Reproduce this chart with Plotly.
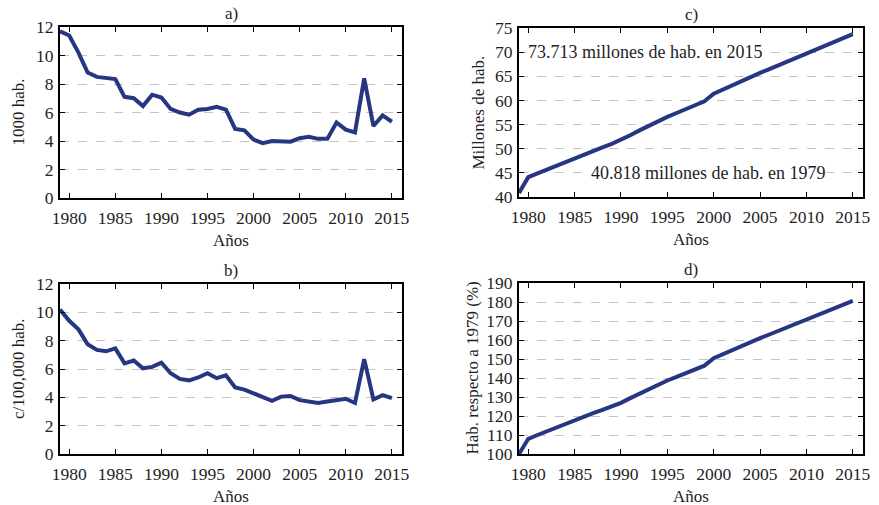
import plotly.graph_objects as go
from plotly.subplots import make_subplots

years = list(range(1979, 2016))

# a) per 1000 inhabitants
rate_1000 = [11.7, 11.4, 10.2, 8.8, 8.5, 8.45, 8.35, 7.1, 7.0, 6.45, 7.25, 7.05,
             6.25, 6.0, 5.85, 6.2, 6.25, 6.4, 6.2, 4.85, 4.75, 4.1, 3.85, 4.0,
             4.0, 3.95, 4.2, 4.3, 4.15, 4.15, 5.3, 4.8, 4.6, 8.4, 5.05, 5.8, 5.35]

# b) per 100,000 inhabitants
rate_100k = [10.2, 9.4, 8.8, 7.75, 7.35, 7.25, 7.45, 6.4, 6.6, 6.05, 6.15, 6.45,
             5.7, 5.3, 5.2, 5.4, 5.7, 5.35, 5.55, 4.7, 4.55, 4.3, 4.05, 3.75,
             4.05, 4.1, 3.8, 3.7, 3.6, 3.7, 3.8, 3.9, 3.6, 6.7, 3.85, 4.15, 3.95]

# c) population, millions
population = [40.818, 44.1, 44.9, 45.7, 46.5, 47.3, 48.1, 48.8, 49.6, 50.3, 51.0,
              51.8, 52.8, 53.8, 54.8, 55.7, 56.6, 57.4, 58.2, 59.0, 59.8, 61.4,
              62.3, 63.2, 64.1, 64.9, 65.7, 66.5, 67.3, 68.1, 68.9, 69.7, 70.5,
              71.3, 72.1, 72.9, 73.713]

# d) population relative to 1979 (%)
relative_pct = [100.0, 108.0, 110.0, 112.0, 113.9, 115.9, 117.8, 119.6, 121.5,
                123.2, 124.9, 126.9, 129.4, 131.8, 134.3, 136.5, 138.7, 140.6,
                142.6, 144.5, 146.5, 150.4, 152.6, 154.8, 157.0, 159.0, 161.0,
                162.9, 164.9, 166.8, 168.8, 170.8, 172.7, 174.7, 176.6, 178.6, 180.6]

x_ticks = [1980, 1985, 1990, 1995, 2000, 2005, 2010, 2015]
panel_titles = ["a)", "c)", "b)", "d)"]
y_titles = ["1000 hab.", "Millones de hab.", "c/100,000 hab.", "Hab. respecto a 1979 (%)"]
y_ranges = [[0, 12], [40, 75], [0, 12], [100, 190]]
y_dticks = [2, 5, 2, 10]

W, H = 879, 505
LINE = "#263681"
FONT = "Liberation Serif, Times New Roman, serif"
TICK = dict(family=FONT, size=17.5, color="#1e1e1e")
TXT = dict(family=FONT, size=17, color="#1e1e1e")
NOTE = dict(family=FONT, size=18, color="#1e1e1e")

fig = make_subplots(rows=2, cols=2)

series = [(rate_1000, 1, 1), (population, 1, 2), (rate_100k, 2, 1), (relative_pct, 2, 2)]
for vals, r, c in series:
    fig.add_trace(go.Scatter(x=years, y=vals, mode="lines",
                             line=dict(color=LINE, width=4), showlegend=False),
                  row=r, col=c)

# pixel boxes of the four panels: (left, right, top, bottom)
boxes = [(60, 402, 27, 198), (519, 863, 28, 197),
         (60, 402, 284, 454), (519, 863, 283, 454)]
# centre x of each rotated y-axis title
ytitle_x = [18, 478, 18, 472]


def label(text, px, py, font=TXT, **kw):
    fig.add_annotation(text=text, xref="paper", yref="paper", x=px / W, y=1 - py / H,
                       xanchor="center", yanchor="middle", showarrow=False,
                       font=font, **kw)


for i, (l, r, t, b) in enumerate(boxes):
    n = "" if i == 0 else str(i + 1)
    common = dict(showline=True, linecolor="black", linewidth=2, mirror="ticks",
                  ticks="inside", ticklen=5, tickwidth=1, tickcolor="black",
                  zeroline=False, automargin=False, tickfont=TICK)
    fig.layout["xaxis" + n].update(
        domain=[l / W, r / W], range=[1979, 2016.1], tickvals=x_ticks,
        showgrid=False, ticklabelstandoff=3, **common)
    fig.layout["yaxis" + n].update(
        domain=[1 - b / H, 1 - t / H], range=y_ranges[i], dtick=y_dticks[i],
        showgrid=True, gridcolor="#c4c4c4", griddash="dash", gridwidth=1,
        ticklabelstandoff=1, **common)
    cx = (l + r) / 2
    label(panel_titles[i], cx, t - 14)          # panel letter
    label("Años", cx, b + 42)                   # x-axis title
    label(y_titles[i], ytitle_x[i], (t + b) / 2, textangle=-90)  # y-axis title

# labels on the population panel
fig.add_annotation(text="73.713 millones de hab. en 2015", xref="x2", yref="y2",
                   x=1979.8, y=70, xanchor="left", yanchor="middle", showarrow=False,
                   bgcolor="white", font=NOTE)
fig.add_annotation(text="40.818 millones de hab. en 1979", xref="x2", yref="y2",
                   x=1986.6, y=45, xanchor="left", yanchor="middle", showarrow=False,
                   bgcolor="white", font=NOTE)

fig.update_layout(width=W, height=H, margin=dict(l=0, r=0, t=0, b=0),
                  paper_bgcolor="white", plot_bgcolor="white",
                  font=dict(family=FONT, color="#1e1e1e"))

fig.write_html("out.html")
